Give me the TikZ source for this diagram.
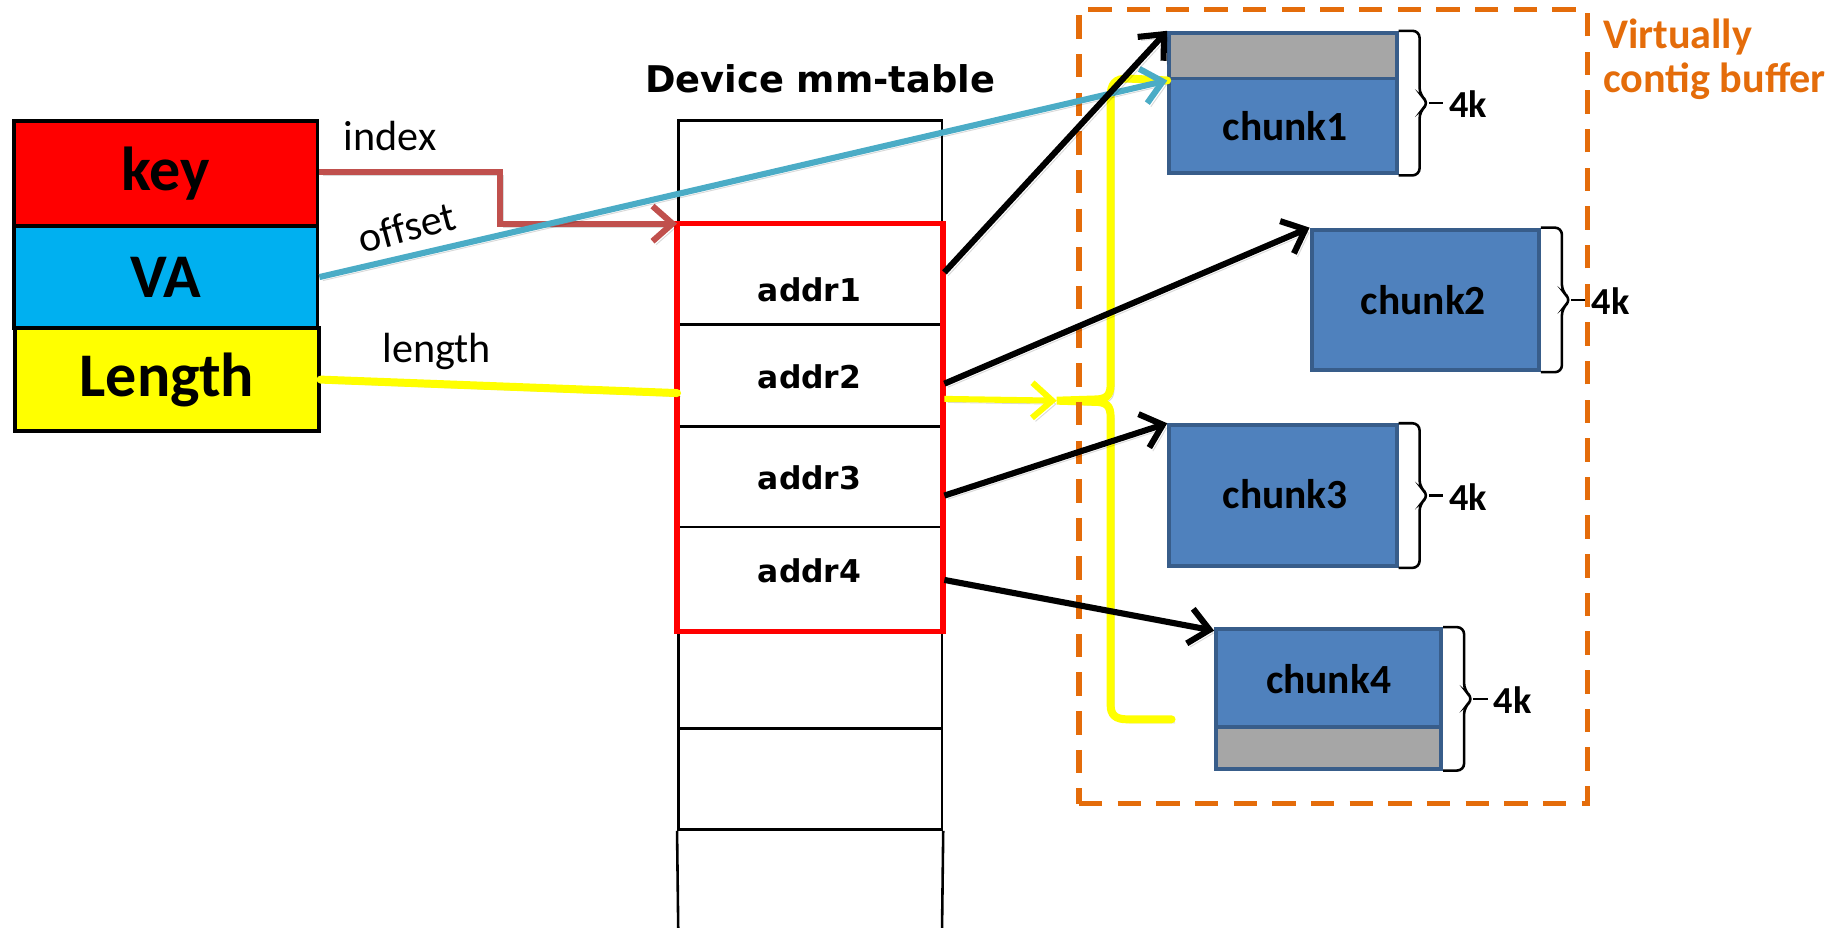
\documentclass[tikz,border=0pt]{standalone}
\usepackage{fontspec}
\setmainfont{Carlito}
\newfontfamily\dejavu{DejaVu Sans}
\newfontfamily\plaincarlito[Ligatures=NoCommon]{Carlito}
\usetikzlibrary{arrows.meta,calc}

\definecolor{keyred}{HTML}{FF0000}
\definecolor{vacyan}{HTML}{00B0F0}
\definecolor{lenyellow}{HTML}{FFFF00}
\definecolor{idxred}{HTML}{C0504D}
\definecolor{offblue}{HTML}{4BACC6}
\definecolor{chunkblue}{HTML}{4F81BD}
\definecolor{chunkedge}{HTML}{385D8A}
\definecolor{padgray}{HTML}{A6A6A6}
\definecolor{bufferorange}{HTML}{E46C0A}

% right-hand brace beside a chunk, with its size label
\newcommand\chunkbrace[2]{%
  \draw[sizebrace] (#1.north east) -- ++(18,0) -- ($(#1.east)+(18,-7)$)
    -- ($(#1.east)+(26,0)$) -- ($(#1.east)+(18,7)$) -- ($(#1.south east)+(18,0)$)
    -- (#1.south east);
  \draw[sizebrace] ($(#1.east)+(26,0)$) -- ++(12,0);
  \node[sizelabel, anchor=west] (#2) at ($(#1.east)+(43,1)$) {4k};
}

\begin{document}
\begin{tikzpicture}[x=0.5pt,y=-0.5pt,
  softshadow/.style={preaction={draw=black, opacity=0.15,
      transform canvas={shift={(1.5pt,-1.5pt)}}}},
  field/.style={draw=black, line width=1.6pt, minimum width=129.5pt, inner sep=0,
      font=\bfseries\fontsize{26.5}{30}\selectfont},
  row/.style={draw=black, line width=1.1pt, minimum width=112.5pt, inner sep=0},
  addr/.style={font=\dejavu\bfseries\fontsize{13.4}{16}\selectfont, inner sep=0},
  chunk/.style={draw=chunkedge, fill=chunkblue, line width=1.7pt,
      minimum width=97pt, minimum height=60pt, inner sep=0},
  pad/.style={draw=chunkedge, fill=padgray, line width=1.7pt, inner sep=0},
  chunklabel/.style={font=\bfseries\fontsize{17.7}{20}\selectfont, inner sep=0},
  sizebrace/.style={draw=black, line width=1.1pt, rounded corners=3pt},
  sizelabel/.style={font=\bfseries\fontsize{16.3}{19}\selectfont, inner sep=0},
  lbl/.style={font=\plaincarlito\fontsize{18}{21}\selectfont, inner sep=0},
  tip/.style={-{Straight Barb[length=8.5pt,width=15pt]}},
  ptr/.style={softshadow, line width=2.6pt, tip},
  lenline/.style={softshadow, draw=lenyellow, line width=3.4pt, line cap=round},
]
\useasboundingbox (0,0) rectangle (1568,792);

% key record
\node[field, fill=keyred, minimum height=45pt] (key) at (141.5,148) {key};
\node[field, fill=vacyan, minimum height=43.5pt] (va) at (141.5,236.5) {VA};
\node[field, fill=lenyellow, minimum height=44pt] (len) at (142.5,324) {Length};

\node[lbl] (lidx) at (333,116) {index};
\node[lbl, rotate=15] (loff) at (347,194) {offset};
\node[lbl] (llen) at (373,300) {length};

% device mm-table
\node[font=\dejavu\bfseries\fontsize{15.7}{18}\selectfont, inner sep=0] (title) at (700,67) {Device mm-table};
\foreach \n/\y/\h in {0/147.5/89, 1/234.5/85, 2/320.5/87, 3/407/86, 4/494/88, 5/580/84, 6/665/86}
  \node[row, minimum height=\h*0.5pt] (r\n) at (691.5,\y) {};
\draw[black, line width=1.1pt] (r6.south west) -- (579,800);
\draw[black, line width=1.1pt] (r6.south east) -- (804,800);
\draw[red, line width=2.4pt] (r1.north west) rectangle (r4.south east);

\node[addr] (a1) at (691,247) {addr1};
\node[addr] (a2) at (691,322) {addr2};
\node[addr] (a3) at (691,408) {addr3};
\node[addr] (a4) at (691,487) {addr4};

% chunks of the buffer
\node[chunk] (c1) at (1095,88) {};
\node[pad, minimum width=97pt, minimum height=19.5pt] (g1) at (1095,47.5) {};
\node[chunklabel] (t1) at (1097,108) {chunk1};

\node[chunk] (c2) at (1216.5,256) {};
\node[chunklabel] (t2) at (1215,256) {chunk2};

\node[chunk] (c3) at (1095,423) {};
\node[chunklabel] (t3) at (1097,422) {chunk3};

\node[chunk, minimum width=96pt, minimum height=59.5pt] (c4) at (1134,596.5) {};
\node[pad, minimum width=96pt, minimum height=18pt] (g4) at (1134,638.5) {};
\node[chunklabel] (t4) at (1134,580) {chunk4};

\chunkbrace{c1}{k1}
\chunkbrace{c2}{k2}
\chunkbrace{c3}{k3}
\chunkbrace{c4}{k4}

% length span over the chunks
\coordinate (spantip) at (902,342);
\coordinate (spanend) at (1000,614);
\draw[lenline] (g1.south west) -- (962,67) .. controls (952,67) and (948,72) .. (948,82)
  -- (948,328) .. controls (948,338) and (944,341) .. (934,341) -- (spantip)
  -- (934,343) .. controls (944,343) and (948,346) .. (948,356)
  -- (948,602) .. controls (948,610) and (952,614) .. (962,614) -- (spanend);

% virtually contiguous buffer outline
\node[draw=bufferorange, line width=2.3pt, dash pattern=on 10pt off 6.5pt,
      minimum width=217pt, minimum height=339pt, inner sep=0] (buf) at (1138,347) {};
\node[text=bufferorange, font=\bfseries\fontsize{18}{21}\selectfont, inner sep=0,
      anchor=base west] (v1) at (1368,41) {Virtually};
\node[text=bufferorange, font=\bfseries\fontsize{18}{21}\selectfont, inner sep=0,
      anchor=base west] (v2) at (1368,79) {contig buffer};

% connectors
\draw[ptr, draw=idxred] ($(key.east)+(0,-1)$) -- (427,147) |- (r1.north west);
\draw[lenline] (len.east) -- ($(r2.west)+(0,15)$);
\draw[ptr, draw=lenyellow] ($(r2.east)+(1,20)$) -- (spantip);
\draw[ptr, draw=offblue] (va.east) -- (g1.south west);

\draw[ptr, draw=black] ($(r1.east)+(1,-2)$) -- (c1.north west);
\draw[ptr, draw=black] ($(r2.east)+(1,7)$) -- (c2.north west);
\draw[ptr, draw=black] ($(r3.east)+(1,16)$) -- (c3.north west);
\draw[ptr, draw=black] ($(r4.east)+(1,1)$) -- ($(c4.north west)+(0,3)$);
\end{tikzpicture}
\end{document}
